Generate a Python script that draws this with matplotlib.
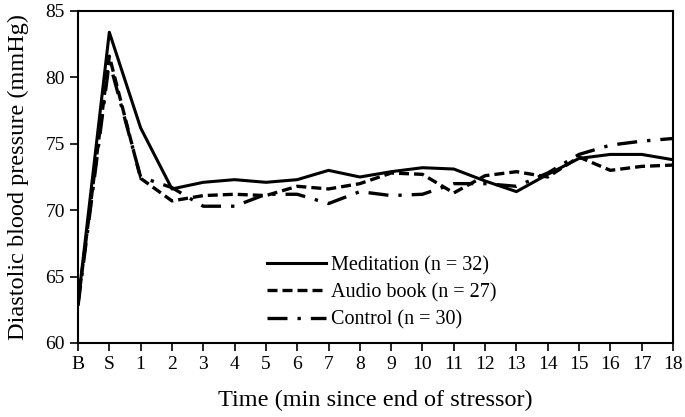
import matplotlib
matplotlib.use("Agg")
import matplotlib.pyplot as plt

times = ["B", "S", "1", "2", "3", "4", "5", "6", "7", "8", "9",
         "10", "11", "12", "13", "14", "15", "16", "17", "18"]

meditation = [63.0, 83.4, 76.2, 71.6, 72.1, 72.3, 72.1, 72.3, 73.0, 72.5, 72.9,
              73.2, 73.1, 72.2, 71.4, 72.7, 73.9, 74.2, 74.2, 73.8]
audio_book = [63.0, 81.6, 72.4, 70.7, 71.1, 71.2, 71.1, 71.8, 71.6, 72.0, 72.8,
              72.7, 71.3, 72.6, 72.9, 72.5, 74.0, 73.0, 73.3, 73.4]
control = [62.8, 81.2, 72.5, 71.7, 70.3, 70.3, 71.2, 71.2, 70.5, 71.4, 71.1,
           71.2, 72.0, 72.0, 71.8, 72.8, 74.2, 74.9, 75.2, 75.4]

plt.rcParams['font.family'] = ['Liberation Serif', 'DejaVu Serif']

fig = plt.figure(figsize=(6.85, 4.17), dpi=100)
ax = fig.add_axes([78 / 685, 1 - 343 / 417, (673 - 78) / 685, (343 - 11) / 417])

x = list(range(len(times)))
ax.plot(x, meditation, color='black', linewidth=2.2, linestyle='-',
        label='Meditation (n = 32)')
ax.plot(x, audio_book, color='black', linewidth=2.4, linestyle=(0, (3, 1.5)),
        label='Audio book (n = 27)')
ax.plot(x, control, color='black', linewidth=2.4, linestyle=(0, (6, 3, 1, 3)),
        label='Control (n = 30)')

ax.set_xlim(0, 19)
ax.set_ylim(60, 85)
ax.set_xticks(x)
ax.set_xticklabels(times)
ax.set_yticks([60, 65, 70, 75, 80, 85])
ax.tick_params(direction='out', length=6, width=1.2, labelsize=14, color='black')
for s in ax.spines.values():
    s.set_linewidth(1.5)

ax.set_xlabel('Time (min since end of stressor)', fontsize=17.5, labelpad=12)
ax.set_ylabel('Diastolic blood pressure (mmHg)', fontsize=17.5, labelpad=12)

ax.legend(loc='lower left', bbox_to_anchor=(0.318, 0.04), frameon=False,
          borderpad=0, borderaxespad=0,
          fontsize=14.5, handlelength=2.9, handletextpad=0.25, labelspacing=0.4)

fig.savefig('out.png', dpi=100)
